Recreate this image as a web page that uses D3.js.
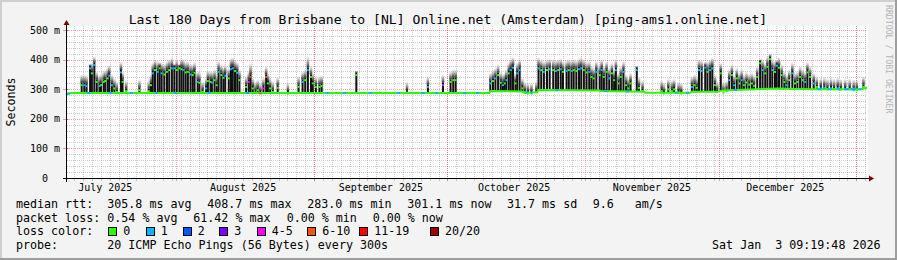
<!DOCTYPE html>
<html><head><meta charset="utf-8">
<script src="https://cdn.jsdelivr.net/npm/d3@7"></script>
<style>
html,body{margin:0;padding:0;background:#f3f3f3;}
svg{display:block;}
text{font-family:"DejaVu Sans Mono",monospace;white-space:pre;}
</style></head><body><svg id="c" width="897" height="260"></svg>
<script>
// ---------------- data ----------------
const titleText = "Last 180 Days from Brisbane to [NL] Online.net (Amsterdam) [ping-ams1.online.net]";
const startTime = Date.UTC(2025, 6, 7, 9, 19, 48);   // Brisbane local time
const endTime   = Date.UTC(2026, 0, 3, 9, 19, 48);
const yLabel = "Seconds";
const yTicks = [0, 100, 200, 300, 400, 500];
const yTickLabels = ["0  ", "100 m", "200 m", "300 m", "400 m", "500 m"];
const monthLabels = ["July 2025", "August 2025", "September 2025", "October 2025", "November 2025", "December 2025"];

// median baseline (days since start, ms)
const baseDay = [0, 0.6, 95, 95.3, 102.3, 103, 105.8, 106, 119.8, 120, 129.8, 130.2, 140.3, 140.5, 146, 147.5, 155, 160, 164, 168, 178.6, 180];
const baseMs  = [283, 287, 287, 294, 292, 289, 290, 297, 296, 294, 291, 288, 288, 291, 291, 296, 300, 302, 301, 300, 300, 305];

// daily latency spikes (days since start, peak median ms, loss colour index)
const spikeDay = [
 3.3,3.9,4.4,5.2,5.6,6.15,6.7,7.3,7.65,8.25,
 8.6,9.15,9.5,10.1,10.65,11.2,12.15,12.5,13.3,16.3,
 18.4,18.9,19.3,19.8,20.4,20.85,21.3,21.9,22.5,23.0,
 23.6,24.15,24.7,25.3,25.75,26.2,26.7,27.2,27.8,28.3,
 28.7,29.4,29.8,30.5,31.3,31.7,32.3,32.6,33.2,33.7,
 34.1,34.7,35.2,35.6,36.4,36.9,37.3,37.8,38.3,38.8,
 40.3,40.9,41.3,41.8,42.4,42.9,43.5,44.2,44.8,45.2,
 45.7,46.3,47.4,49.7,52.1,53.0,53.6,54.2,54.9,55.3,
 56.0,56.8,57.3,
 65.1,76.5,81.2,84.6,86.3,86.9,87.45,95.25,95.85,96.4,
 97.0,97.6,98.1,98.5,98.85,99.4,99.85,100.35,100.9,101.3,
 101.85,102.45,103.0,103.7,104.5,105.6,106.1,106.7,107.3,108.0,
 108.6,109.4,110.0,110.5,111.1,111.6,112.4,112.9,113.5,114.0,
 114.6,115.2,115.7,116.3,116.9,117.5,118.0,118.5,119.1,119.85,
 120.3,120.8,121.4,122.0,122.6,123.1,123.5,124.1,124.6,125.2,
 125.8,126.3,126.8,128.2,128.7,129.5,133.8,134.3,135.3,136.1,
 136.6,137.6,138.2,140.6,141.2,141.7,142.2,142.8,143.6,144.1,
 144.7,145.2,145.8,146.3,147.1,147.7,148.4,149.0,149.6,150.1,
 150.7,151.3,151.8,152.3,152.9,153.5,154.1,154.6,155.3,155.95,
 156.5,157.1,157.6,158.2,158.7,159.3,159.7,160.2,160.8,161.4,
 161.9,162.5,163.2,163.8,164.35,164.95,165.5,166.1,166.6,167.2,
 168.0,168.7,169.6,170.4,171.1,171.9,172.6,173.4,174.1,175.1,
 176.1,177.0,177.7,179.2];
const spikeMs = [
 322,322,319,379,362,390,333,319,322,333,
 336,345,354,322,311,299,365,333,302,305,
 302,322,362,373,367,379,362,358,367,373,
 379,379,373,379,376,373,365,367,358,356,
 364,333,330,299,311,336,333,331,339,322,
 367,356,347,354,345,376,379,370,364,339,
 316,333,350,311,297,305,294,311,350,328,
 311,299,313,294,316,333,339,373,350,328,
 316,316,319,
 356,297,316,322,333,339,339,328,336,345,
 356,330,322,328,339,362,373,381,328,362,
 373,311,297,294,294,299,379,373,367,373,
 376,373,370,373,376,367,370,373,370,373,
 370,376,379,373,365,367,350,345,367,356,
 373,350,367,345,362,339,373,328,350,367,
 322,311,328,373,313,302,302,294,308,302,
 308,297,294,316,322,313,373,370,381,367,
 373,379,322,299,362,297,302,339,356,322,
 345,328,339,322,331,324,328,320,350,396,
 373,362,384,410,373,367,388,381,356,333,
 322,339,362,328,333,350,339,333,365,350,
 328,316,311,313,308,311,308,311,307,308,
 308,305,305,316];
const spikeLoss = [
 0,1,1,1,0,1,0,1,0,0,
 0,0,1,1,0,0,1,0,0,0,
 0,0,1,0,1,0,1,0,0,0,
 1,1,0,0,0,1,0,0,1,0,
 0,1,0,0,1,0,0,1,0,0,
 1,0,0,1,0,1,1,0,1,0,
 0,4,5,0,0,0,5,4,5,0,
 0,0,0,0,0,1,0,1,0,0,
 0,0,0,
 0,0,1,4,0,0,0,1,0,1,
 0,0,1,0,1,0,1,1,0,1,
 1,0,0,0,1,0,1,0,1,0,
 1,0,1,0,1,0,1,0,1,0,
 0,1,1,0,0,1,0,0,1,0,
 1,0,0,1,0,0,1,0,0,1,
 0,0,0,1,0,0,0,0,0,0,
 0,0,0,1,0,0,1,1,1,0,
 1,1,0,0,0,0,0,1,0,1,
 0,0,1,0,0,0,0,0,0,0,
 1,0,0,0,1,0,1,0,0,0,
 1,0,1,0,0,0,0,1,0,0,
 1,0,1,1,0,1,0,1,0,1,
 0,1,0,0];

// tall smoke (ping spread) above some spikes
const smokeDay = [5.2, 6.15, 20.85, 24.15, 25.3, 41.3, 54.2, 65.1, 128.2, 143.6, 155.95, 158.2, 159.7];
const smokeMs  = [386, 412, 392, 386, 385, 392, 414, 364, 380, 392, 402, 420, 398];

// baseline samples with 1/20 loss
const baseLossDay = [0.3,4.9,9.8,14.5,20.1,24.4,31.9,40.6,58.5,62.4,68.2,74.6,80.1,83.2,89.5,92.4,103.3,110.2,121.1,126.1,137.1,139.6,150.4,169.2,171.5,173.8,175.6,176.5,177.3,178.4];

const lossColors = ["#26ff00","#00b8ff","#0059ff","#7e00ff","#ff00ff","#ff5500","#ff0000","#a00000"];
const lossLabels = ["0","1","2","3","4-5","6-10","11-19","20/20"];

const statLine1 = ["median rtt:","305.8 ms avg","408.7 ms max","283.0 ms min","301.1 ms now","31.7 ms sd","9.6   am/s"];
const statLine2 = ["packet loss:","0.54 % avg","61.42 % max","0.00 % min","0.00 % now"];
const lossTitle = "loss color:";
const probeLine = ["probe:","20 ICMP Echo Pings (56 Bytes) every 300s"];
const stampText = "Sat Jan  3 09:19:48 2026";
const watermark = "RRDTOOL / TOBI OETIKER";

// ---------------- drawing ----------------
const W = 897, H = 260;
const PL = 67, PR = 867, PT = 26, PB = 178;
const svg = d3.select("#c");
const x = d3.scaleUtc().domain([new Date(startTime), new Date(endTime)]).range([PL, PR]);
const y = d3.scaleLinear().domain([0, 513.5]).range([PB, PT]);
const dd = d => new Date(startTime + d * 864e5);
const px = v => Math.round(v) + 0.5;
const GRID = "rgba(143,143,143,0.45)", MGRID = "rgba(223,0,0,0.36)";

svg.append("rect").attr("width", W).attr("height", H).attr("fill", "#f3f3f3");
svg.append("rect").attr("x",0).attr("y",0).attr("width",W).attr("height",2).attr("fill","#cfcfcf");
svg.append("rect").attr("x",0).attr("y",0).attr("width",2).attr("height",H).attr("fill","#cfcfcf");
svg.append("rect").attr("x",0).attr("y",H-2).attr("width",W).attr("height",2).attr("fill","#9e9e9e");
svg.append("rect").attr("x",W-2).attr("y",0).attr("width",2).attr("height",H).attr("fill","#9e9e9e");

svg.append("rect").attr("x", PL).attr("y", PT).attr("width", PR - PL + 1).attr("height", PB - PT).attr("fill", "#ffffff");

const grid = svg.append("g").attr("shape-rendering", "crispEdges").attr("stroke-dasharray", "1,1");
grid.selectAll(".hm").data(d3.range(20, 501, 20).filter(v => v % 100 !== 0)).join("line")
  .attr("x1", PL).attr("x2", PR).attr("y1", v => px(y(v))).attr("y2", v => px(y(v))).attr("stroke", GRID);
const minorDays = d3.utcDay.range(new Date(startTime), new Date(endTime)).filter(d => Math.round(d / 864e5) % 2 === 0);
grid.selectAll(".vm").data(minorDays).join("line")
  .attr("x1", d => px(x(d))).attr("x2", d => px(x(d))).attr("y1", PT).attr("y2", PB).attr("stroke", GRID);
grid.selectAll(".hM").data(yTicks.filter(v => v > 0)).join("line")
  .attr("x1", PL).attr("x2", PR).attr("y1", v => px(y(v))).attr("y2", v => px(y(v))).attr("stroke", MGRID);
const monthStarts = d3.utcMonth.range(new Date(startTime), new Date(endTime));
grid.selectAll(".vM").data(monthStarts).join("line")
  .attr("x1", d => px(x(d))).attr("x2", d => px(x(d))).attr("y1", PT).attr("y2", PB).attr("stroke", MGRID);

const ticks = svg.append("g").attr("shape-rendering", "crispEdges");
ticks.selectAll(".tx").data(minorDays).join("line")
  .attr("x1", d => px(x(d))).attr("x2", d => px(x(d))).attr("y1", PB).attr("y2", PB + 3).attr("stroke", GRID);
ticks.selectAll(".tX").data(monthStarts).join("line")
  .attr("x1", d => px(x(d))).attr("x2", d => px(x(d))).attr("y1", PB).attr("y2", PB + 3).attr("stroke", MGRID);
ticks.selectAll(".ty").data(yTicks).join("line")
  .attr("x1", PL - 4).attr("x2", PL + 2).attr("y1", v => px(y(v))).attr("y2", v => px(y(v))).attr("stroke", MGRID);

const defs = svg.append("defs");
const g1 = defs.append("linearGradient").attr("id", "smk").attr("x1", 0).attr("y1", 1).attr("x2", 0).attr("y2", 0);
g1.append("stop").attr("offset", 0).attr("stop-color", "#2a2a2a").attr("stop-opacity", 1);
g1.append("stop").attr("offset", 0.45).attr("stop-color", "#777").attr("stop-opacity", 0.7);
g1.append("stop").attr("offset", 1).attr("stop-color", "#bbb").attr("stop-opacity", 0);

const baseAt = d => {
  const i = d3.bisectRight(baseDay, d);
  if (i <= 0) return baseMs[0];
  if (i >= baseDay.length) return baseMs[baseMs.length - 1];
  const t = (d - baseDay[i - 1]) / (baseDay[i] - baseDay[i - 1]);
  return baseMs[i - 1] + t * (baseMs[i] - baseMs[i - 1]);
};

const spikes = spikeDay.map((d, i) => {
  const si = smokeDay.indexOf(d);
  return { d, hi: spikeMs[i], lo: baseAt(d), loss: spikeLoss[i], smoke: si >= 0 ? smokeMs[si] : null };
});

const plot = svg.append("g");
plot.selectAll(".smk").data(spikes).join("rect")
  .attr("x", s => x(dd(s.d)) - 1.3).attr("width", 2.6)
  .attr("y", s => s.smoke ? y(s.smoke) : y(s.hi) - 9)
  .attr("height", s => s.smoke ? y(s.hi) - y(s.smoke) : 9)
  .attr("fill", "url(#smk)");
plot.selectAll(".bar").data(spikes).join("rect")
  .attr("x", s => x(dd(s.d)) - 1).attr("width", 2)
  .attr("y", s => y(s.hi)).attr("height", s => y(s.lo) - y(s.hi))
  .attr("fill", "#111");

const line = d3.line().x(d => x(dd(d))).y((d, i) => y(baseMs[i]));
plot.append("path").attr("d", line(baseDay)).attr("fill", "none")
  .attr("stroke", lossColors[0]).attr("stroke-width", 2);
plot.selectAll(".bl").data(baseLossDay).join("rect")
  .attr("x", d => x(dd(d)) - 1.5).attr("width", 3)
  .attr("y", d => y(baseAt(d)) - 1).attr("height", 2)
  .attr("fill", lossColors[1]);
// median markers just below the top of each spike
plot.selectAll(".mk").data(spikes).join("rect")
  .attr("x", s => x(dd(s.d)) - 1).attr("width", 2)
  .attr("y", s => y(s.hi) + 1.5).attr("height", 2)
  .attr("fill", s => lossColors[s.loss]);

const ax = svg.append("g").attr("shape-rendering", "crispEdges");
ax.append("line").attr("x1", PL - 4).attr("x2", PR + 2).attr("y1", PB + 0.5).attr("y2", PB + 0.5).attr("stroke", "#000");
ax.append("line").attr("x1", PL - 0.5).attr("x2", PL - 0.5).attr("y1", PB + 4).attr("y2", PT - 1).attr("stroke", "#000");
svg.append("path").attr("d", `M${PR + 2},${PB - 2.5}L${PR + 7},${PB + 0.5}L${PR + 2},${PB + 3.5}Z`).attr("fill", "#7f0000");
svg.append("path").attr("d", `M${PL - 3.5},${PT - 1}L${PL - 0.5},${PT - 6}L${PL + 2.5},${PT - 1}Z`).attr("fill", "#7f0000");

svg.selectAll(".yl").data(yTicks).join("text")
  .attr("x", 60).attr("y", v => y(v) + 3.6).attr("text-anchor", "end")
  .attr("font-size", 10).attr("fill", "#000").text((v, i) => yTickLabels[i]);
const monthLabelDates = d3.utcMonth.range(d3.utcMonth.floor(new Date(startTime)), new Date(endTime)).map(m => d3.utcDay.offset(m, 15));
svg.selectAll(".ml").data(monthLabelDates).join("text")
  .attr("x", d => x(d)).attr("y", 190.5).attr("text-anchor", "middle")
  .attr("font-size", 10).attr("fill", "#000").text((d, i) => monthLabels[i]);

svg.append("text").attr("x", 448).attr("y", 24).attr("text-anchor", "middle")
  .attr("font-size", 13.1).attr("fill", "#000").text(titleText);
svg.append("text").attr("transform", "translate(15.3,102) rotate(-90)").attr("text-anchor", "middle")
  .attr("font-size", 11.66).attr("fill", "#000").text(yLabel);
svg.append("text").attr("transform", "translate(885.5,5) rotate(90)").attr("text-anchor", "start")
  .attr("font-size", 8.2).attr("fill", "#b4b4b4").text(watermark);

const LF = 11.66;
const l1x = [16, 107.3, 207.3, 307.3, 407.3, 507, 592.7];
const l2x = [16, 107.3, 193.3, 286.7, 372.7];
const leg = svg.append("g").attr("font-size", LF).attr("fill", "#000");
statLine1.forEach((t, i) => leg.append("text").attr("x", l1x[i]).attr("y", 208).text(t));
statLine2.forEach((t, i) => leg.append("text").attr("x", l2x[i]).attr("y", 221.7).text(t));
leg.append("text").attr("x", 16).attr("y", 235.4).text(lossTitle);
const boxX = [108.3, 145.7, 182.7, 219.3, 256.7, 307.3, 359.3, 430];
lossLabels.forEach((t, i) => {
  svg.append("rect").attr("x", Math.round(boxX[i]) + 0.5).attr("y", 227.5).attr("width", 8).attr("height", 8)
    .attr("fill", lossColors[i]).attr("stroke", "#000").attr("stroke-width", 1).attr("shape-rendering", "crispEdges");
  leg.append("text").attr("x", boxX[i] + 15).attr("y", 235.4).text(t);
});
leg.append("text").attr("x", 16).attr("y", 249).text(probeLine[0]);
leg.append("text").attr("x", 107.3).attr("y", 249).text(probeLine[1]);
leg.append("text").attr("x", 880.5).attr("y", 249).attr("text-anchor", "end").text(stampText);
</script></body></html>
